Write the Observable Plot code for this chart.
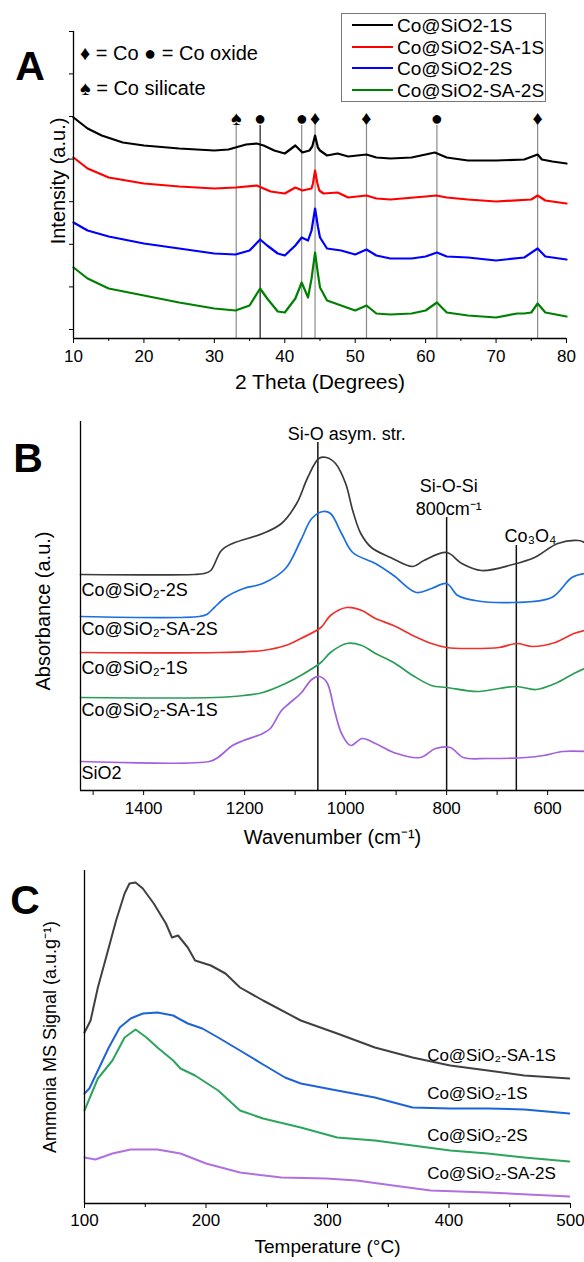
<!DOCTYPE html>
<html><head><meta charset="utf-8">
<script src="https://cdn.jsdelivr.net/npm/d3@7"></script>
<script src="https://cdn.jsdelivr.net/npm/@observablehq/plot@0.6"></script>
<style>
body{margin:0;background:#fff;}
#wrap{position:relative;width:584px;height:1262px;font-family:"Liberation Sans",Arial,sans-serif;color:#000;overflow:hidden;background:#fff;}
#wrap svg{position:absolute;left:0;overflow:visible;}
.ov{position:absolute;white-space:nowrap;line-height:1;transform:translate(0,-50%);}
.letter{font-weight:bold;font-size:41px;transform:translate(-50%,-50%);}
</style></head>
<body><div id="wrap"></div>
<script>
const FONT = '"Liberation Sans", Arial, sans-serif';

// ---------- Panel A : XRD ----------
const samplesA = ["Co@SiO2-1S", "Co@SiO2-SA-1S", "Co@SiO2-2S", "Co@SiO2-SA-2S"];
const colorsA = ["#000000", "#ff0000", "#0000ff", "#008000"];
const xrd_1S = [[10,221],[12,210],[14,203],[17,196],[20,193],[25,190],[30,188],[32,189],[33,191],[34.5,194],[36,195],[37,193],[38.5,188],[40,185],[41.5,193],[42.5,186],[43.5,188],[43.9,192],[44.3,203],[44.7,191],[45,188],[46,183],[47.5,185],[49,182],[51.6,184],[53,181],[55,180],[58,181],[60,184],[61.3,186],[63,181],[66,178],[70,178],[74,179],[75.9,184],[76.5,179],[78,177],[80,175]];
const xrd_SA1S = [[10,181],[12,170],[15,161],[20,155],[25,152],[30,150],[33,151],[36,153],[38,147],[40,145],[41.5,151],[42.5,148],[43.8,150],[44.0,155],[44.3,168],[44.6,156],[44.9,148],[45.5,145],[47.5,146],[49,141],[51.6,143],[53,140],[55,139],[60,142],[61.5,143],[63,141],[66,139],[70,137],[75,139],[75.9,143],[77,138],[80,135]];
const xrd_2S = [[10,116],[12,108],[15,102],[20,95],[25,90],[30,85],[33,84],[35,88],[36.5,99],[37.5,93],[39,85],[40,83],[41.5,93],[42.4,101],[43.3,98],[43.8,108],[44.3,130],[44.7,112],[45,101],[46,90],[48,88],[50,84],[51.6,89],[53,83],[55,80],[58,80],[60,82],[61.6,86],[63,82],[66,81],[70,78],[74,81],[75.9,90],[77,82],[80,79]];
const xrd_SA2S = [[10,71],[12,60],[15,50],[20,43],[25,36],[30,30],[33,28],[35,33],[36.5,50],[37.5,40],[39,27],[40,26],[41.5,40],[42.4,56],[43.3,41],[43.8,60],[44.3,86],[44.7,65],[45,51],[46,38],[48,33],[50,28],[51.6,33],[53,25],[55,24],[58,25],[60,28],[61.6,36],[63,26],[66,23],[70,21],[73,25],[74,25],[75,26],[75.9,35],[77,26],[80,22]];
const seriesA = [xrd_1S, xrd_SA1S, xrd_2S, xrd_SA2S];
const refPeaks = [33.1, 36.5, 42.4, 44.3, 51.6, 61.6, 75.9];
const refSymbols = ["♠", "●", "●", "♦", "♦", "●", "♦"];
const refSymbolY = 220, refLineTop = 213;
const xTicksA = [10, 20, 30, 40, 50, 60, 70, 80];
const xMinorA = [15, 25, 35, 45, 55, 65, 75];
const yTicksA = [9, 51.6, 94.2, 136.8, 179.4, 222, 264.6, 307];

// ---------- Panel B : FTIR ----------
const samplesB = ["Co@SiO2-2S", "Co@SiO2-SA-2S", "Co@SiO2-1S", "Co@SiO2-SA-1S", "SiO2"];
const colorsB = ["#3a3a3a", "#1c6fe0", "#f0302c", "#2a9d55", "#a25fe0"];
const ftir_2S = [[1525,216],[1300,216],[1280,217],[1267,220],[1246,240],[1224,247],[1164,257],[1127,267],[1097,287],[1075,313],[1053,332],[1038,333],[1020,327],[1000,307],[986,280],[970,257],[949,243],[911,233],[867,224],[845,230],[800,238],[770,227],[731,220],[669,226],[626,233],[580,247],[539,250],[527,248]];
const ftir_SA2S = [[1525,174],[1290,174],[1275,176],[1260,183],[1238,193],[1202,202],[1164,207],[1119,222],[1089,250],[1067,272],[1045,279],[1030,277],[1008,257],[986,238],[941,227],[905,215],[860,198],[830,202],[800,207],[778,195],[744,190],[669,188],[592,193],[552,213],[527,217]];
const ftir_1S = [[1525,138],[1250,138],[1164,140],[1119,145],[1089,152],[1049,163],[1030,175],[998,183],[968,180],[941,172],[905,165],[867,155],[830,147],[800,143],[756,142],[696,143],[661,147],[630,144],[585,148],[548,157],[527,160]];
const ftir_SA1S = [[1525,93],[1260,93],[1202,95],[1164,98],[1119,107],[1089,115],[1049,128],[1030,138],[998,147],[968,145],[941,137],[905,128],[867,115],[830,105],[800,103],[740,99],[696,102],[661,104],[623,101],[585,107],[548,117],[527,122]];
const ftir_SiO2 = [[1525,29],[1270,29],[1253,33],[1224,45],[1202,50],[1164,57],[1149,62],[1127,80],[1112,87],[1089,97],[1067,111],[1052,114],[1037,108],[1022,80],[1008,57],[990,45],[967,52],[941,47],[905,38],[852,33],[822,42],[793,43],[767,33],[719,32],[643,33],[608,35],[570,39],[527,39]];
const seriesB = [ftir_2S, ftir_SA2S, ftir_1S, ftir_SA1S, ftir_SiO2];
const labelsB = ["Co@SiO₂-2S", "Co@SiO₂-SA-2S", "Co@SiO₂-1S", "Co@SiO₂-SA-1S", "SiO2"];
const labelYB = [200, 161, 122, 80, 17];
const bandPos = [1055, 800, 662];
const bandLineTop = [348, 273, 245];
const bandLabel = ["Si-O asym. str.", "Si-O-Si\n800cm⁻¹", "Co₃O₄"];
const bandLabelX = [998, 796, 634];
const bandLabelY = [358, 294, 256];
const xTicksB = [1400, 1200, 1000, 800, 600];
const xMinorB = [1500, 1300, 1100, 900, 700];

// ---------- Panel C : NH3-TPD ----------
const samplesC = ["Co@SiO2-SA-1S", "Co@SiO2-1S", "Co@SiO2-2S", "Co@SiO2-SA-2S"];
const colorsC = ["#404040", "#1d64d8", "#2ca55c", "#b070e0"];
const tpd_SA1S = [[100,171],[105,183],[111,216],[120,256],[126,283],[133,310],[137,320],[142,321],[148,315],[157,300],[167,280],[172,266],[177,268],[185,256],[191,243],[204,238],[216,230],[228,216],[247,203],[278,183],[308,170],[339,156],[370,146],[401,138],[432,133],[462,128],[499,125]];
const tpd_1S = [[100,110],[104,115],[111,133],[120,156],[129,176],[138,185],[148,190],[160,191],[173,188],[185,180],[197,175],[210,166],[228,153],[247,139],[265,126],[278,120],[308,113],[339,106],[370,96],[401,95],[432,95],[462,94],[499,90]];
const tpd_2S = [[100,93],[111,125],[123,143],[133,166],[142,174],[151,166],[160,156],[173,143],[179,135],[191,128],[210,113],[228,93],[247,85],[278,76],[308,66],[339,63],[370,58],[401,53],[432,50],[462,46],[499,42]];
const tpd_SA2S = [[100,46],[109,44],[123,50],[138,54],[160,54],[179,50],[200,40],[228,31],[262,26],[299,25],[324,23],[354,18],[385,13],[432,11],[499,7]];
const seriesC = [tpd_SA1S, tpd_1S, tpd_2S, tpd_SA2S];
const labelsC = ["Co@SiO₂-SA-1S", "Co@SiO₂-1S", "Co@SiO₂-2S", "Co@SiO₂-SA-2S"];
const labelYC = [148, 110, 68, 30];
const labelXC = 382;
const xTicksC = [100, 200, 300, 400, 500];
const xMinorC = [150, 250, 350, 450];

function rows(samples, series) {
  return samples.flatMap((s, i) => series[i].map(([x, y]) => ({sample: s, x, y})));
}
const wrap = document.getElementById("wrap");
function place(svg, top) { svg.style.top = top + "px"; wrap.appendChild(svg); }
function ov(text, left, top, size, cls) {
  const d = document.createElement("div");
  d.className = "ov" + (cls ? " " + cls : "");
  d.style.left = left + "px"; d.style.top = top + "px";
  if (size) d.style.fontSize = size + "px";
  d.textContent = text; wrap.appendChild(d); return d;
}
const baseStyle = {fontFamily: FONT, fontSize: "17px", color: "#000", background: "transparent", overflow: "visible"};
const fmt = d => String(d);

// Panel A
const plotA = Plot.plot({
  width: 584, height: 400, marginLeft: 73, marginRight: 18, marginTop: 31, marginBottom: 62,
  style: baseStyle,
  x: {domain: [10, 80]},
  y: {domain: [0, 307]},
  color: {domain: samplesA, range: colorsA},
  marks: [
    Plot.ruleX(refPeaks.filter(d => d !== 36.5), {x: d => d, y1: 0, y2: refLineTop, stroke: "#8a8a8a", strokeWidth: 1.2}),
    Plot.ruleX(refPeaks.filter(d => d === 36.5), {x: d => d, y1: 0, y2: refLineTop, stroke: "#1a1a1a", strokeWidth: 1.2}),
    Plot.line(rows(samplesA, seriesA), {x: "x", y: "y", z: "sample", stroke: "sample", strokeWidth: 2.2}),
    Plot.text(refPeaks, {x: d => d, y: refSymbolY, text: (d, i) => refSymbols[i], fontSize: 20, fill: "#000"}),
    Plot.axisX({ticks: xTicksA, tickSize: 5, tickPadding: 6, tickFormat: fmt, label: null, fontSize: 17}),
    Plot.axisX({ticks: xMinorA, tickSize: 3, tickFormat: () => "", label: null}),
    Plot.axisY({ticks: yTicksA, tickSize: 4, tickFormat: () => "", label: null}),
    Plot.ruleY([0], {strokeWidth: 1.3}),
    Plot.ruleX([10], {strokeWidth: 1.3}),
    Plot.text(["2 Theta (Degrees)"], {frameAnchor: "bottom", dy: 50, text: d => d, fontSize: 21}),
    Plot.text(["Intensity (a.u.)"], {frameAnchor: "left", textAnchor: "middle", rotate: -90, dx: -15, dy: -4, text: d => d, fontSize: 20})
  ]
});
place(plotA, 0);

// Panel B
const plotB = Plot.plot({
  width: 584, height: 460, marginLeft: 80, marginRight: 0, marginTop: 21, marginBottom: 70,
  style: baseStyle,
  x: {domain: [1525, 527]},
  y: {domain: [0, 369], axis: null},
  color: {domain: samplesB, range: colorsB},
  marks: [
    Plot.ruleX(bandPos, {x: d => d, y1: 0, y2: (d, i) => bandLineTop[i], stroke: "#111", strokeWidth: 1.5}),
    Plot.line(rows(samplesB, seriesB), {x: "x", y: "y", z: "sample", stroke: "sample", strokeWidth: 1.7, curve: "catmull-rom"}),
    Plot.text(labelsB, {frameAnchor: "left", y: (d, i) => labelYB[i], text: d => d, textAnchor: "start", dx: 1, fontSize: 18}),
    Plot.text(bandLabel, {x: (d, i) => bandLabelX[i], y: (d, i) => bandLabelY[i], text: d => d, fontSize: 18, lineHeight: 1.25}),
    Plot.axisX({ticks: xTicksB, tickSize: 5, tickPadding: 6, tickFormat: fmt, label: null, fontSize: 17}),
    Plot.axisX({ticks: xMinorB, tickSize: 5, tickFormat: () => "", label: null}),
    Plot.ruleY([0], {strokeWidth: 1.3}),
    Plot.ruleX([1525], {strokeWidth: 1.3}),
    Plot.text(["Wavenumber (cm⁻¹)"], {frameAnchor: "bottom", dy: 53, text: d => d, fontSize: 20}),
    Plot.text(["Absorbance (a.u.)"], {frameAnchor: "left", textAnchor: "middle", rotate: -90, dx: -37, dy: 5, text: d => d, fontSize: 20})
  ]
});
place(plotB, 400);

// Panel C
const plotC = Plot.plot({
  width: 584, height: 402, marginLeft: 84, marginRight: 14, marginTop: 10, marginBottom: 59,
  style: baseStyle,
  x: {domain: [100, 500]},
  y: {domain: [0, 333], axis: null},
  color: {domain: samplesC, range: colorsC},
  marks: [
    Plot.line(rows(samplesC, seriesC), {x: "x", y: "y", z: "sample", stroke: "sample", strokeWidth: 2}),
    Plot.text(labelsC, {x: labelXC, y: (d, i) => labelYC[i], text: d => d, textAnchor: "start", fontSize: 17}),
    Plot.axisX({ticks: xTicksC, tickSize: 5, tickPadding: 5, tickFormat: fmt, label: null, fontSize: 17}),
    Plot.axisX({ticks: xMinorC, tickSize: 4, tickFormat: () => "", label: null}),
    Plot.ruleY([0], {strokeWidth: 1.3}),
    Plot.ruleX([100], {strokeWidth: 1.3}),
    Plot.text(["Temperature (°C)"], {frameAnchor: "bottom", dy: 49, text: d => d, fontSize: 19}),
    Plot.text(["Ammonia MS Signal (a.u.g⁻¹)"], {frameAnchor: "left", textAnchor: "middle", rotate: -90, dx: -34, dy: 0, text: d => d, fontSize: 18})
  ]
});
place(plotC, 860);

// Panel letters
ov("A", 30, 66, null, "letter");
ov("B", 28, 458, null, "letter");
ov("C", 25, 900, null, "letter");

// Symbol key (panel A)
ov("♦ = Co ● = Co oxide", 80, 53, 20);
ov("♠ = Co silicate", 80, 88, 20);

// Legend (panel A)
const leg = d3.select(wrap).append("svg")
  .attr("width", 584).attr("height", 120).style("top", "0px").style("left", "0px");
leg.append("rect").attr("x", 341.5).attr("y", 13.5).attr("width", 204).attr("height", 88)
  .attr("fill", "#fff").attr("stroke", "#777").attr("stroke-width", 1);
const rowY = [25, 47, 68, 90];
samplesA.forEach((s, i) => {
  leg.append("line").attr("x1", 352).attr("x2", 393).attr("y1", rowY[i]).attr("y2", rowY[i])
    .attr("stroke", colorsA[i]).attr("stroke-width", 2);
  leg.append("text").attr("x", 397).attr("y", rowY[i]).attr("dy", "0.35em")
    .attr("font-family", FONT).attr("font-size", 19).text(s);
});
</script></body></html>
